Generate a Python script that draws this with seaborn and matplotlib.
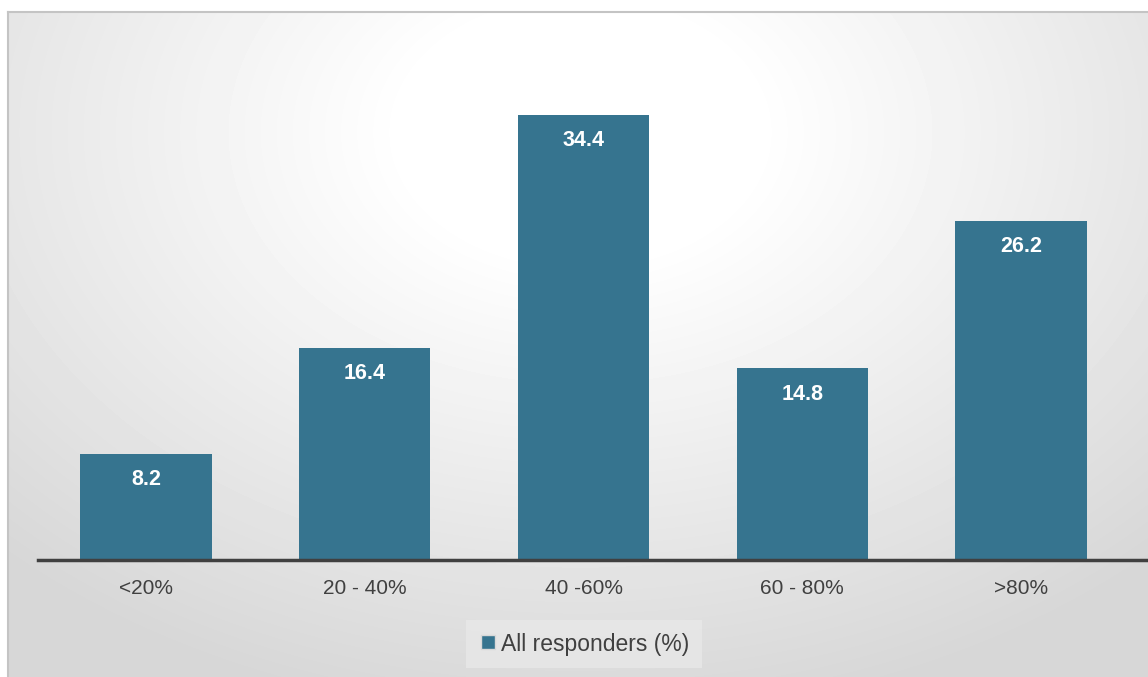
import numpy as np
import pandas as pd
import matplotlib
matplotlib.use("Agg")
import matplotlib.pyplot as plt
from matplotlib.lines import Line2D
import seaborn as sns

categories = ["<20%", "20 - 40%", "40 -60%", "60 - 80%", ">80%"]
values = [8.2, 16.4, 34.4, 14.8, 26.2]
series_name = "All responders (%)"

bar_color = "#36748F"
text_color = "#404040"

plt.rcParams["font.family"] = ["Liberation Sans", "DejaVu Sans"]

W, H = 1148, 677
fig = plt.figure(figsize=(W / 100, H / 100), dpi=100)
fig.patch.set_facecolor("white")

# chart area background: soft radial gradient, white near upper middle
bg = fig.add_axes([8 / W, 0, 1 - 8 / W, (H - 12) / H], zorder=0)
yy, xx = np.mgrid[0:665, 0:1140]
r = np.sqrt(((xx - 572) / 700) ** 2 + ((yy - 120) / 500) ** 2)
shade = np.clip(1 - 0.17 * np.clip(r - 0.25, 0, None), 0.84, 1)
bg.imshow(shade, cmap="gray", vmin=0, vmax=1, aspect="auto", extent=[0, 1, 0, 1])
bg.set_xticks([])
bg.set_yticks([])
for s in bg.spines.values():
    s.set_color("#c4c4c4")
    s.set_linewidth(1.5)
bg.spines["right"].set_visible(False)
bg.spines["bottom"].set_visible(False)

ax = fig.add_axes([38 / W, (H - 560) / H, 1 - 38 / W, 548 / H], zorder=1)
ax.patch.set_alpha(0)

df = pd.DataFrame({"band": categories, "pct": values})
sns.barplot(data=df, x="band", y="pct", color=bar_color, saturation=1, width=0.6, ax=ax)

ax.set_xlim(-0.494, 4.58)
ax.set_ylim(0, 42.35)
ax.set_xlabel("")
ax.set_ylabel("")
ax.set_yticks([])
for side in ["top", "right", "left"]:
    ax.spines[side].set_visible(False)
ax.spines["bottom"].set_color(text_color)
ax.spines["bottom"].set_linewidth(2.5)
ax.tick_params(axis="x", length=0, pad=14, labelsize=15, labelcolor=text_color)

for i, v in enumerate(values):
    ax.annotate(f"{v}", (i, v), xytext=(0, -26), textcoords="offset pixels",
                ha="center", va="center", color="white", fontsize=15.5, fontweight="bold")

handle = Line2D([], [], marker="s", linestyle="none", markersize=10,
                markerfacecolor=bar_color, markeredgecolor="#d8d8d8")
leg = fig.legend([handle], [series_name], loc="center", bbox_to_anchor=(584 / W, 1 - 644 / H),
                 frameon=True, fancybox=False, fontsize=16.5, handletextpad=0.15,
                 borderpad=0.55, handlelength=0.8, borderaxespad=0)
leg.get_frame().set_facecolor("#e8e8e8")
leg.get_frame().set_edgecolor("none")
for t in leg.get_texts():
    t.set_color(text_color)

fig.savefig("out.png", dpi=100)
